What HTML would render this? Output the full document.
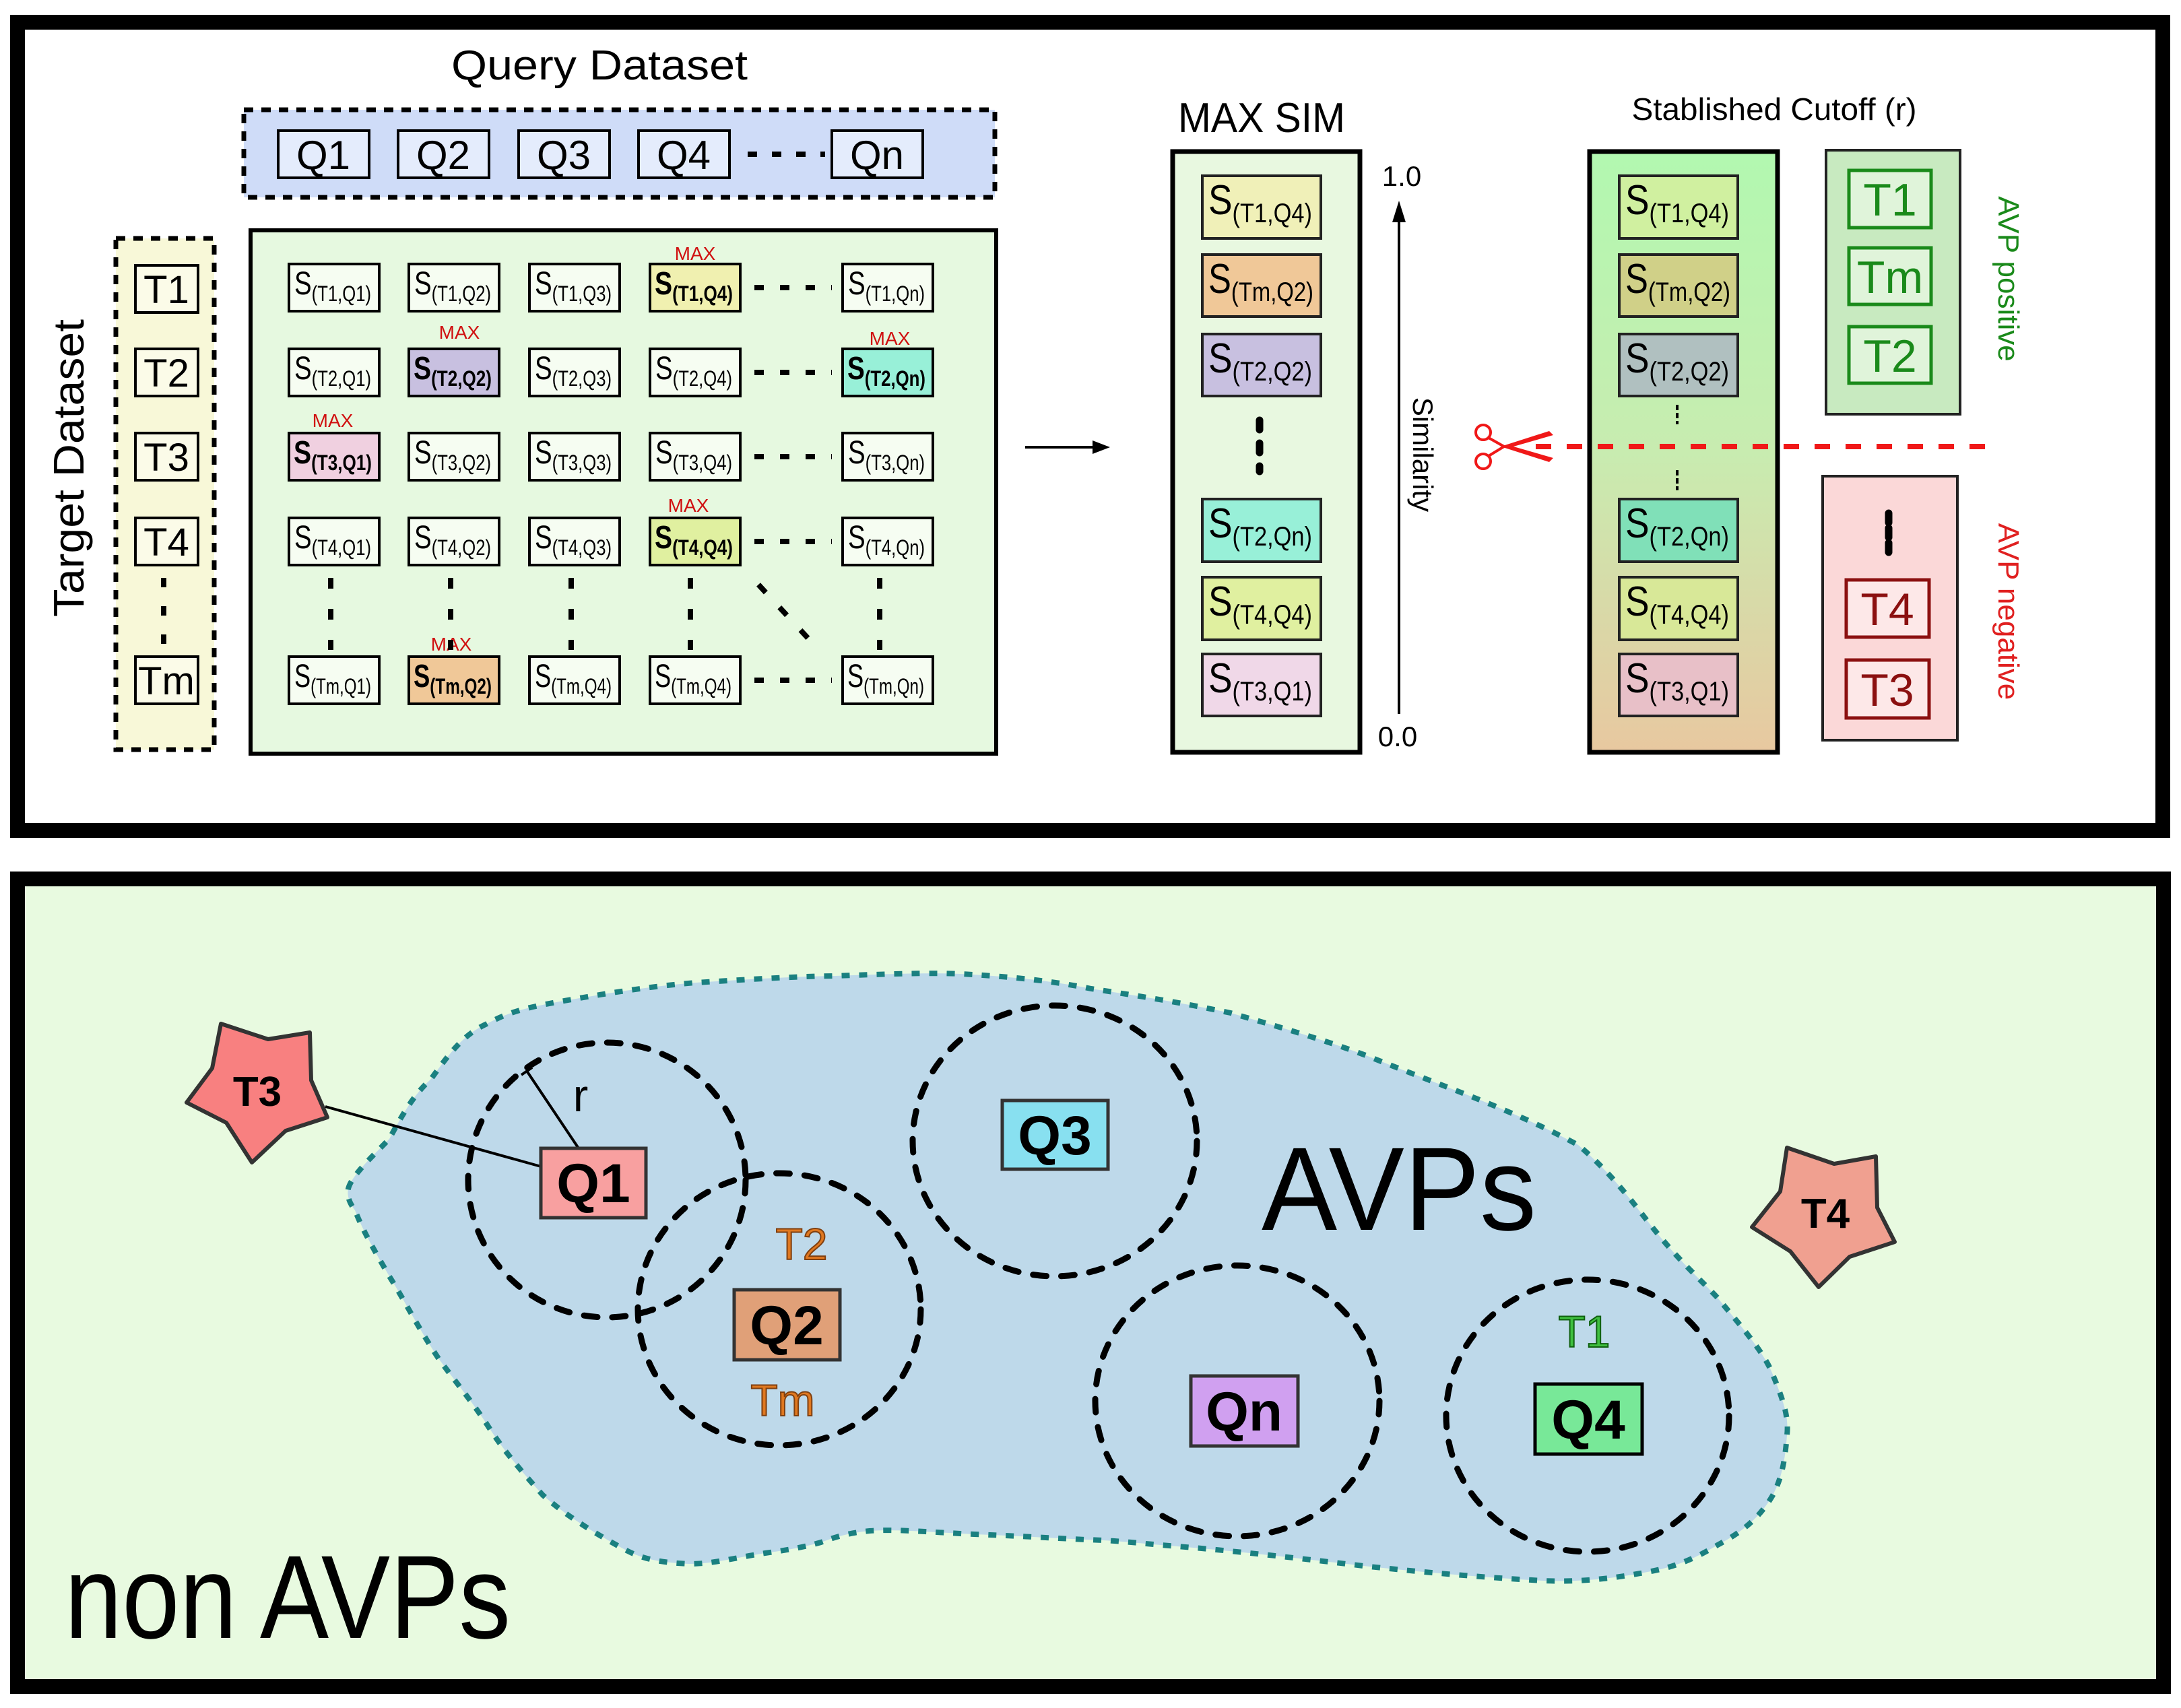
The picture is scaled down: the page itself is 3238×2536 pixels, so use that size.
<!DOCTYPE html>
<html><head><meta charset="utf-8"><style>
html,body{margin:0;padding:0;background:#fff;}
svg{display:block;}
text{font-family:"Liberation Sans",Arial,sans-serif;}
</style></head><body>
<svg width="3238" height="2536" viewBox="0 0 3238 2536" xmlns="http://www.w3.org/2000/svg">
<defs>
<linearGradient id="cg" x1="0" y1="0" x2="0" y2="1">
<stop offset="0" stop-color="#b2f8b0"/><stop offset="0.5" stop-color="#c8ecb0"/><stop offset="1" stop-color="#e8c8a0"/>
</linearGradient>
</defs>
<!-- TOP PANEL -->
<rect x="26" y="33" width="3185" height="1200" fill="#fff" stroke="#000" stroke-width="22"/>
<text x="890" y="118" font-size="62" text-anchor="middle" textLength="440" lengthAdjust="spacingAndGlyphs">Query Dataset</text>
<rect x="362" y="163" width="1115" height="130" fill="#cfdcf8" stroke="#000" stroke-width="7" stroke-dasharray="14,12"/>
<g stroke="#000" stroke-width="4" fill="#e4ecfc">
<rect x="413" y="194" width="135" height="70"/><rect x="591" y="194" width="135" height="70"/>
<rect x="770" y="194" width="135" height="70"/><rect x="948" y="194" width="135" height="70"/>
<rect x="1235" y="194" width="135" height="70"/></g>
<g font-size="60" text-anchor="middle"><text x="480" y="251">Q1</text><text x="658" y="251">Q2</text><text x="837" y="251">Q3</text><text x="1015" y="251">Q4</text><text x="1302" y="251">Qn</text></g>
<line x1="1110" y1="229" x2="1225" y2="229" stroke="#000" stroke-width="8" stroke-dasharray="14,22"/>
<rect x="172" y="354" width="146" height="759" fill="#f8f8d8" stroke="#000" stroke-width="7" stroke-dasharray="14,12"/>
<g stroke="#000" stroke-width="4" fill="#fbfbe8">
<rect x="201" y="394" width="93" height="70"/><rect x="201" y="518" width="93" height="70"/><rect x="201" y="643" width="93" height="70"/><rect x="201" y="769" width="93" height="70"/><rect x="201" y="975" width="93" height="70"/></g>
<g font-size="58" text-anchor="middle"><text x="247" y="450">T1</text><text x="247" y="574">T2</text><text x="247" y="699">T3</text><text x="247" y="825">T4</text><text x="247" y="1031">Tm</text></g>
<line x1="243" y1="858" x2="243" y2="965" stroke="#000" stroke-width="8" stroke-dasharray="14,28"/>
<text transform="translate(124,695) rotate(-90)" font-size="64" text-anchor="middle" textLength="442" lengthAdjust="spacingAndGlyphs">Target Dataset</text>
<rect x="372" y="342" width="1107" height="777" fill="#e6f9e0" stroke="#000" stroke-width="6"/>
<!-- matrix cells -->
<g stroke="#000" stroke-width="4">
<rect x="429" y="392" width="134" height="70" fill="#f6fdf2"/><rect x="607" y="392" width="134" height="70" fill="#f6fdf2"/><rect x="786" y="392" width="134" height="70" fill="#f6fdf2"/><rect x="965" y="392" width="134" height="70" fill="#f0f0b0"/><rect x="1251" y="392" width="134" height="70" fill="#f6fdf2"/>
<rect x="429" y="518" width="134" height="70" fill="#f6fdf2"/><rect x="607" y="518" width="134" height="70" fill="#c8c0e0"/><rect x="786" y="518" width="134" height="70" fill="#f6fdf2"/><rect x="965" y="518" width="134" height="70" fill="#f6fdf2"/><rect x="1251" y="518" width="134" height="70" fill="#98f0d8"/>
<rect x="429" y="643" width="134" height="70" fill="#f0d0e0"/><rect x="607" y="643" width="134" height="70" fill="#f6fdf2"/><rect x="786" y="643" width="134" height="70" fill="#f6fdf2"/><rect x="965" y="643" width="134" height="70" fill="#f6fdf2"/><rect x="1251" y="643" width="134" height="70" fill="#f6fdf2"/>
<rect x="429" y="769" width="134" height="70" fill="#f6fdf2"/><rect x="607" y="769" width="134" height="70" fill="#f6fdf2"/><rect x="786" y="769" width="134" height="70" fill="#f6fdf2"/><rect x="965" y="769" width="134" height="70" fill="#e0f0a0"/><rect x="1251" y="769" width="134" height="70" fill="#f6fdf2"/>
<rect x="429" y="975" width="134" height="70" fill="#f6fdf2"/><rect x="607" y="975" width="134" height="70" fill="#f0c898"/><rect x="786" y="975" width="134" height="70" fill="#f6fdf2"/><rect x="965" y="975" width="134" height="70" fill="#f6fdf2"/><rect x="1251" y="975" width="134" height="70" fill="#f6fdf2"/>
</g>
<g font-size="48">
<text x="437" y="437" textLength="114" lengthAdjust="spacingAndGlyphs">S<tspan font-size="32" dy="10">(T1,Q1)</tspan></text>
<text x="615" y="437" textLength="114" lengthAdjust="spacingAndGlyphs">S<tspan font-size="32" dy="10">(T1,Q2)</tspan></text>
<text x="794" y="437" textLength="114" lengthAdjust="spacingAndGlyphs">S<tspan font-size="32" dy="10">(T1,Q3)</tspan></text>
<text x="972" y="437" font-weight="bold" textLength="116" lengthAdjust="spacingAndGlyphs">S<tspan font-size="32" dy="10">(T1,Q4)</tspan></text>
<text x="1259" y="437" textLength="114" lengthAdjust="spacingAndGlyphs">S<tspan font-size="32" dy="10">(T1,Qn)</tspan></text>
<text x="437" y="563" textLength="114" lengthAdjust="spacingAndGlyphs">S<tspan font-size="32" dy="10">(T2,Q1)</tspan></text>
<text x="614" y="563" font-weight="bold" textLength="116" lengthAdjust="spacingAndGlyphs">S<tspan font-size="32" dy="10">(T2,Q2)</tspan></text>
<text x="794" y="563" textLength="114" lengthAdjust="spacingAndGlyphs">S<tspan font-size="32" dy="10">(T2,Q3)</tspan></text>
<text x="973" y="563" textLength="114" lengthAdjust="spacingAndGlyphs">S<tspan font-size="32" dy="10">(T2,Q4)</tspan></text>
<text x="1258" y="563" font-weight="bold" textLength="116" lengthAdjust="spacingAndGlyphs">S<tspan font-size="32" dy="10">(T2,Qn)</tspan></text>
<text x="436" y="688" font-weight="bold" textLength="116" lengthAdjust="spacingAndGlyphs">S<tspan font-size="32" dy="10">(T3,Q1)</tspan></text>
<text x="615" y="688" textLength="114" lengthAdjust="spacingAndGlyphs">S<tspan font-size="32" dy="10">(T3,Q2)</tspan></text>
<text x="794" y="688" textLength="114" lengthAdjust="spacingAndGlyphs">S<tspan font-size="32" dy="10">(T3,Q3)</tspan></text>
<text x="973" y="688" textLength="114" lengthAdjust="spacingAndGlyphs">S<tspan font-size="32" dy="10">(T3,Q4)</tspan></text>
<text x="1259" y="688" textLength="114" lengthAdjust="spacingAndGlyphs">S<tspan font-size="32" dy="10">(T3,Qn)</tspan></text>
<text x="437" y="814" textLength="114" lengthAdjust="spacingAndGlyphs">S<tspan font-size="32" dy="10">(T4,Q1)</tspan></text>
<text x="615" y="814" textLength="114" lengthAdjust="spacingAndGlyphs">S<tspan font-size="32" dy="10">(T4,Q2)</tspan></text>
<text x="794" y="814" textLength="114" lengthAdjust="spacingAndGlyphs">S<tspan font-size="32" dy="10">(T4,Q3)</tspan></text>
<text x="972" y="814" font-weight="bold" textLength="116" lengthAdjust="spacingAndGlyphs">S<tspan font-size="32" dy="10">(T4,Q4)</tspan></text>
<text x="1259" y="814" textLength="114" lengthAdjust="spacingAndGlyphs">S<tspan font-size="32" dy="10">(T4,Qn)</tspan></text>
<text x="437" y="1020" textLength="114" lengthAdjust="spacingAndGlyphs">S<tspan font-size="32" dy="10">(Tm,Q1)</tspan></text>
<text x="614" y="1020" font-weight="bold" textLength="116" lengthAdjust="spacingAndGlyphs">S<tspan font-size="32" dy="10">(Tm,Q2)</tspan></text>
<text x="794" y="1020" textLength="114" lengthAdjust="spacingAndGlyphs">S<tspan font-size="32" dy="10">(Tm,Q4)</tspan></text>
<text x="972" y="1020" textLength="114" lengthAdjust="spacingAndGlyphs">S<tspan font-size="32" dy="10">(Tm,Q4)</tspan></text>
<text x="1258" y="1020" textLength="114" lengthAdjust="spacingAndGlyphs">S<tspan font-size="32" dy="10">(Tm,Qn)</tspan></text>
</g>
<g font-size="28" fill="#d01010" text-anchor="middle">
<text x="1032" y="386">MAX</text><text x="682" y="503">MAX</text><text x="1321" y="512">MAX</text><text x="494" y="634">MAX</text><text x="1022" y="760">MAX</text><text x="670" y="966">MAX</text>
</g>
<g stroke="#000" stroke-width="8" stroke-dasharray="14,24">
<line x1="1120" y1="427" x2="1235" y2="427"/><line x1="1120" y1="553" x2="1235" y2="553"/><line x1="1120" y1="678" x2="1235" y2="678"/><line x1="1120" y1="804" x2="1235" y2="804"/><line x1="1120" y1="1010" x2="1235" y2="1010"/>
</g>
<g stroke="#000" stroke-width="8" stroke-dasharray="16,30">
<line x1="491" y1="858" x2="491" y2="965"/><line x1="669" y1="858" x2="669" y2="965"/><line x1="848" y1="858" x2="848" y2="965"/><line x1="1025" y1="858" x2="1025" y2="965"/><line x1="1306" y1="858" x2="1306" y2="965"/>
<line x1="1126" y1="868" x2="1200" y2="948"/>
</g>
<line x1="1522" y1="664" x2="1630" y2="664" stroke="#000" stroke-width="4"/>
<polygon points="1648,664 1622,654 1622,674" fill="#000"/>
<!-- MAX SIM -->
<text x="1873" y="196" font-size="62" text-anchor="middle" textLength="248" lengthAdjust="spacingAndGlyphs">MAX SIM</text>
<rect x="1741" y="225" width="278" height="892" fill="#e8f8e0" stroke="#000" stroke-width="7"/>
<g stroke="#222" stroke-width="4">
<rect x="1785" y="261" width="176" height="93" fill="#f0f0b8"/>
<rect x="1785" y="378" width="176" height="92" fill="#f0c898"/>
<rect x="1785" y="496" width="176" height="92" fill="#c8c0e0"/>
<rect x="1785" y="741" width="176" height="93" fill="#98f0d8"/>
<rect x="1785" y="857" width="176" height="93" fill="#e0f0a0"/>
<rect x="1785" y="971" width="176" height="92" fill="#f0d8e8"/>
</g>
<line x1="1870" y1="624" x2="1870" y2="700" stroke="#000" stroke-width="11" stroke-dasharray="14,20" stroke-linecap="round"/>
<g font-size="62">
<text x="1794" y="318" textLength="154" lengthAdjust="spacingAndGlyphs">S<tspan font-size="40" dy="12">(T1,Q4)</tspan></text>
<text x="1794" y="435" textLength="156" lengthAdjust="spacingAndGlyphs">S<tspan font-size="40" dy="12">(Tm,Q2)</tspan></text>
<text x="1794" y="553" textLength="154" lengthAdjust="spacingAndGlyphs">S<tspan font-size="40" dy="12">(T2,Q2)</tspan></text>
<text x="1794" y="798" textLength="154" lengthAdjust="spacingAndGlyphs">S<tspan font-size="40" dy="12">(T2,Qn)</tspan></text>
<text x="1794" y="914" textLength="154" lengthAdjust="spacingAndGlyphs">S<tspan font-size="40" dy="12">(T4,Q4)</tspan></text>
<text x="1794" y="1028" textLength="154" lengthAdjust="spacingAndGlyphs">S<tspan font-size="40" dy="12">(T3,Q1)</tspan></text>
</g>
<line x1="2077" y1="1060" x2="2077" y2="320" stroke="#000" stroke-width="4"/>
<polygon points="2077,298 2067,330 2087,330" fill="#000"/>
<text x="2081" y="276" font-size="42" text-anchor="middle">1.0</text>
<text x="2075" y="1108" font-size="42" text-anchor="middle">0.0</text>
<text transform="translate(2098,675) rotate(90)" font-size="42" text-anchor="middle">Similarity</text>
<!-- Cutoff -->
<text x="2634" y="178" font-size="46" text-anchor="middle" textLength="423" lengthAdjust="spacingAndGlyphs">Stablished Cutoff (r)</text>
<rect x="2360" y="225" width="279" height="892" fill="url(#cg)" stroke="#000" stroke-width="7"/>
<g stroke="#222" stroke-width="4">
<rect x="2404" y="261" width="176" height="93" fill="#d0f0a0"/>
<rect x="2404" y="378" width="176" height="92" fill="#d0d088"/>
<rect x="2404" y="496" width="176" height="92" fill="#b0c0c0"/>
<rect x="2404" y="741" width="176" height="93" fill="#80e0b8"/>
<rect x="2404" y="857" width="176" height="93" fill="#d8e898"/>
<rect x="2404" y="971" width="176" height="92" fill="#e8c0c8"/>
</g>
<g font-size="62">
<text x="2413" y="318" textLength="154" lengthAdjust="spacingAndGlyphs">S<tspan font-size="40" dy="12">(T1,Q4)</tspan></text>
<text x="2413" y="435" textLength="156" lengthAdjust="spacingAndGlyphs">S<tspan font-size="40" dy="12">(Tm,Q2)</tspan></text>
<text x="2413" y="553" textLength="154" lengthAdjust="spacingAndGlyphs">S<tspan font-size="40" dy="12">(T2,Q2)</tspan></text>
<text x="2413" y="798" textLength="154" lengthAdjust="spacingAndGlyphs">S<tspan font-size="40" dy="12">(T2,Qn)</tspan></text>
<text x="2413" y="914" textLength="154" lengthAdjust="spacingAndGlyphs">S<tspan font-size="40" dy="12">(T4,Q4)</tspan></text>
<text x="2413" y="1028" textLength="154" lengthAdjust="spacingAndGlyphs">S<tspan font-size="40" dy="12">(T3,Q1)</tspan></text>
</g>
<g stroke="#000" stroke-width="4" stroke-dasharray="8,4"><line x1="2490" y1="601" x2="2490" y2="630"/><line x1="2490" y1="698" x2="2490" y2="728"/></g>
<!-- scissors + cut line -->
<line x1="2280" y1="663" x2="2960" y2="663" stroke="#f01818" stroke-width="8" stroke-dasharray="23,23"/>
<g stroke="#f01818" fill="none" stroke-width="4"><circle cx="2202" cy="642" r="11"/><circle cx="2202" cy="685" r="11"/>
<path d="M2210,650 L2233,663 L2210,677"/></g>
<polygon points="2228,663 2300,640 2306,646 2240,665" fill="#f01818"/>
<polygon points="2228,663 2300,686 2306,680 2240,661" fill="#f01818"/>
<!-- AVP positive -->
<rect x="2711" y="223" width="199" height="392" fill="#c8eac0" stroke="#222" stroke-width="4"/>
<g stroke="#1a8a1a" stroke-width="5" fill="#e0f4da">
<rect x="2745" y="253" width="122" height="85"/><rect x="2745" y="368" width="122" height="84"/><rect x="2745" y="485" width="122" height="84"/></g>
<g font-size="68" fill="#1a8a1a" text-anchor="middle"><text x="2806" y="320">T1</text><text x="2806" y="435">Tm</text><text x="2806" y="552">T2</text></g>
<text transform="translate(2967,414) rotate(90)" font-size="44" fill="#1a8a1a" text-anchor="middle">AVP positive</text>
<!-- AVP negative -->
<rect x="2706" y="707" width="200" height="392" fill="#fbd8d8" stroke="#222" stroke-width="4"/>
<line x1="2804" y1="762" x2="2804" y2="822" stroke="#000" stroke-width="11" stroke-dasharray="14,8" stroke-linecap="round"/>
<g stroke="#8b1010" stroke-width="5" fill="#fde8e8">
<rect x="2741" y="861" width="123" height="85"/><rect x="2741" y="980" width="123" height="86"/></g>
<g font-size="68" fill="#8b1010" text-anchor="middle"><text x="2802" y="928">T4</text><text x="2802" y="1048">T3</text></g>
<text transform="translate(2967,908) rotate(90)" font-size="44" fill="#e02020" text-anchor="middle">AVP negative</text>

<!-- BOTTOM PANEL -->
<rect x="26" y="1305" width="3186" height="1199" fill="#e8fae0" stroke="#000" stroke-width="22"/>
<path d="M517,1765 C522,1745 555,1715 578,1691 C600,1650 615,1625 640,1602 C670,1560 690,1535 723,1520 C760,1500 790,1495 826,1488 C900,1475 960,1465 1033,1459 C1100,1455 1170,1450 1240,1449 C1320,1446 1380,1444 1426,1446 C1500,1450 1560,1456 1620,1468 C1700,1480 1760,1490 1827,1504 C1900,1525 1970,1545 2033,1569 C2110,1600 2180,1625 2240,1651 C2290,1672 2320,1688 2343,1700 C2390,1740 2420,1780 2446,1813 C2490,1870 2525,1900 2550,1927 C2590,1975 2620,2010 2632,2041 C2648,2080 2656,2105 2653,2131 C2650,2170 2645,2195 2632,2220 C2610,2258 2580,2278 2550,2294 C2510,2318 2480,2328 2446,2334 C2390,2345 2340,2349 2291,2347 C2200,2342 2120,2335 2033,2326 C1930,2314 1830,2302 1723,2294 C1680,2290 1650,2287 1612,2286 C1550,2283 1500,2280 1446,2278 C1380,2275 1330,2270 1291,2273 C1260,2276 1240,2282 1219,2290 C1190,2298 1165,2302 1136,2306 C1090,2313 1060,2322 1023,2322 C980,2320 955,2315 930,2302 C880,2275 840,2250 806,2220 C770,2180 745,2150 723,2115 C700,2080 675,2050 651,2017 C620,1970 600,1930 578,1895 C555,1855 540,1830 527,1797 C518,1785 515,1775 517,1765 Z" fill="#bed9ea" stroke="#1a8080" stroke-width="8" stroke-dasharray="12,14"/>
<g fill="none" stroke="#000" stroke-width="9" stroke-dasharray="20,22" stroke-linecap="round">
<ellipse cx="901" cy="1752" rx="206" ry="204"/>
<ellipse cx="1157" cy="1944" rx="210" ry="202"/>
<ellipse cx="1566" cy="1694" rx="211" ry="201"/>
<ellipse cx="1837" cy="2080" rx="211" ry="201"/>
<ellipse cx="2357" cy="2102" rx="210" ry="202"/>
</g>
<!-- T3 star -->
<polygon points="328,1520 398,1543 460,1533 462,1604 486,1659 424,1679 374,1726 336,1667 277,1637 315,1586" fill="#f88080" stroke="#333" stroke-width="6" stroke-linejoin="round"/>
<text x="382" y="1642" font-size="62" font-weight="bold" text-anchor="middle">T3</text>
<line x1="483" y1="1643" x2="803" y2="1732" stroke="#000" stroke-width="4"/>
<line x1="782" y1="1590" x2="859" y2="1705" stroke="#000" stroke-width="4"/>
<line x1="774" y1="1596" x2="790" y2="1585" stroke="#000" stroke-width="4"/>
<text x="862" y="1650" font-size="68" text-anchor="middle">r</text>
<!-- boxes -->
<rect x="803" y="1705" width="156" height="103" fill="#f8a0a0" stroke="#333" stroke-width="5"/>
<rect x="1090" y="1915" width="157" height="104" fill="#e0a078" stroke="#333" stroke-width="5"/>
<rect x="1488" y="1634" width="157" height="102" fill="#88e0f0" stroke="#333" stroke-width="5"/>
<rect x="1768" y="2043" width="159" height="104" fill="#d0a0f0" stroke="#333" stroke-width="5"/>
<rect x="2279" y="2055" width="159" height="104" fill="#78e898" stroke="#000" stroke-width="5"/>
<g font-size="82" font-weight="bold" text-anchor="middle">
<text x="881" y="1785">Q1</text><text x="1168" y="1996">Q2</text><text x="1566" y="1714">Q3</text><text x="1847" y="2124">Qn</text><text x="2358" y="2136">Q4</text>
</g>
<g font-size="66" text-anchor="middle" stroke-width="2">
<text x="1190" y="1870" fill="#e07820" stroke="#804010">T2</text>
<text x="1162" y="2102" fill="#e07820" stroke="#804010">Tm</text>
<text x="2352" y="2000" fill="#40c040" stroke="#106010">T1</text>
</g>
<text x="1873" y="1826" font-size="176" textLength="408" lengthAdjust="spacingAndGlyphs">AVPs</text>
<text x="96" y="2432" font-size="176" textLength="662" lengthAdjust="spacingAndGlyphs">non AVPs</text>
<!-- T4 star -->
<polygon points="2653,1704 2723,1728 2785,1717 2787,1793 2813,1844 2746,1866 2700,1911 2658,1858 2601,1822 2643,1769" fill="#f0a090" stroke="#333" stroke-width="6" stroke-linejoin="round"/>
<text x="2710" y="1823" font-size="62" font-weight="bold" text-anchor="middle">T4</text>
</svg>
</body></html>
